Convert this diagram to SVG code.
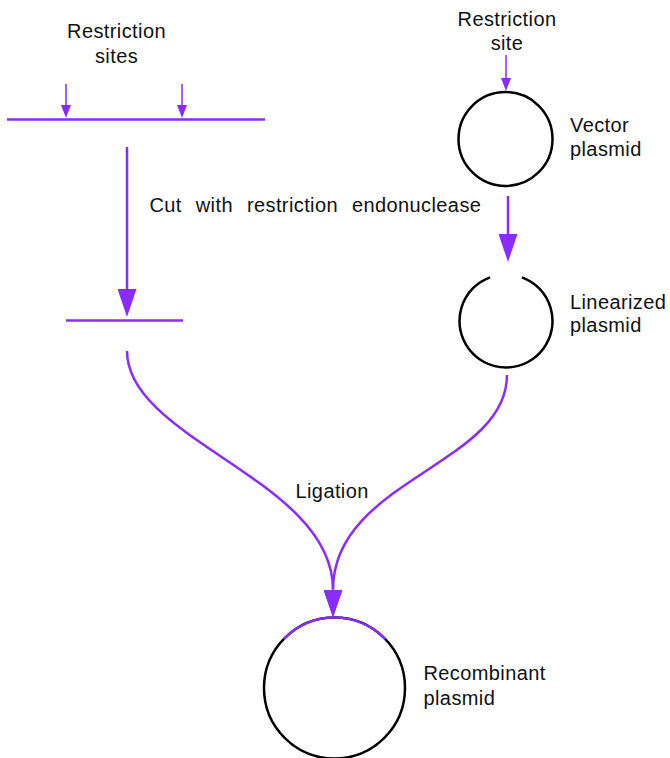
<svg xmlns="http://www.w3.org/2000/svg" width="670" height="758" viewBox="0 0 670 758">
<style>
  .t { font-family: "Liberation Sans", Arial, sans-serif; font-size: 20px; letter-spacing: 0.4px; fill: #111; }
  .m { text-anchor: middle; }
  .p { stroke: #8a2cff; stroke-width: 2.5; fill: none; }
  .ps { stroke: #8a2cff; stroke-width: 1.5; fill: none; }
  .c { stroke: #000; stroke-width: 2.5; fill: none; }
</style>
<defs>
  <marker id="big" markerUnits="userSpaceOnUse" viewBox="0 0 28 19" markerWidth="28" markerHeight="19" refX="0" refY="9.5" orient="auto">
    <path d="M0,0 L28,9.5 L0,19 Z" fill="#8a2cff"/>
  </marker>
  <marker id="small" markerUnits="userSpaceOnUse" viewBox="0 0 13 10" markerWidth="13" markerHeight="10" refX="0" refY="5" orient="auto">
    <path d="M0,0 L13,5 L0,10 Z" fill="#8a2cff"/>
  </marker>
</defs>

<g id="insert-dna">
  <line class="p" x1="7" y1="119.5" x2="265" y2="119.5"/>
  <text class="t m" x="116.5" y="38">Restriction</text>
  <text class="t m" x="116.5" y="62.5">sites</text>
</g>

<g id="cut-fragment">
  <line class="p" x1="66" y1="320.5" x2="183" y2="320.5"/>
</g>

<g id="vector-plasmid">
  <circle class="c" cx="505.5" cy="139" r="47"/>
  <text class="t m" x="507" y="26">Restriction</text>
  <text class="t m" x="507" y="50">site</text>
  <text class="t" x="570" y="132">Vector</text>
  <text class="t" x="570" y="155.5">plasmid</text>
</g>

<g id="linearized-plasmid">
  <path class="c" d="M521.9,277.3 A46.5,46.5 0 1 1 490.1,277.3"/>
  <text class="t" x="570" y="308.5">Linearized</text>
  <text class="t" x="570" y="332">plasmid</text>
</g>

<g id="recombinant-plasmid">
  <circle class="c" cx="334.5" cy="688" r="70.5"/>
  <path class="p" d="M283.8,639 A70.5,70.5 0 0 1 385.2,639"/>
  <text class="t" x="423.5" y="680">Recombinant</text>
  <text class="t" x="423.5" y="704.5">plasmid</text>
</g>

<g id="labels">
  <text class="t" x="149.5" y="212" word-spacing="8">Cut with restriction endonuclease</text>
  <text class="t" x="295.5" y="497.5">Ligation</text>
</g>

<g id="connectors">
  <line class="ps" x1="66" y1="84" x2="66" y2="105" marker-end="url(#small)"/>
  <line class="ps" x1="182" y1="84" x2="182" y2="105" marker-end="url(#small)"/>
  <line class="ps" x1="506" y1="55" x2="506" y2="78" marker-end="url(#small)"/>
  <line class="p" x1="127" y1="147" x2="127" y2="289" marker-end="url(#big)"/>
  <line class="p" x1="508" y1="196" x2="508" y2="234" marker-end="url(#big)"/>
  <path class="p" d="M127,351 C127,440 333,480 333,589.5" marker-end="url(#big)"/>
  <path class="p" d="M507,375 C507,465 333,480 333,589.5" marker-end="url(#big)"/>
</g>
</svg>
